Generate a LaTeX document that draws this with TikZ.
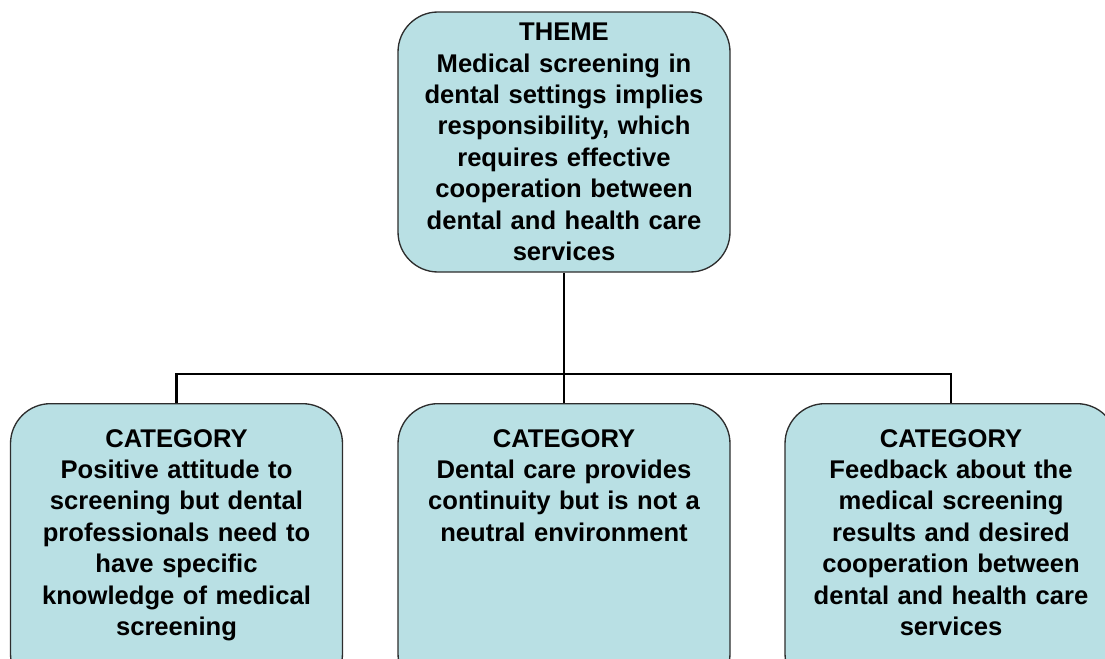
\documentclass[tikz,border=0pt]{standalone}
\usepackage{fontspec}
\setmainfont{Liberation Sans}
\usepackage{xcolor}
\definecolor{boxfill}{RGB}{185,224,228}
\definecolor{boxline}{RGB}{45,45,45}
\usepackage{tikz}
\usetikzlibrary{positioning}

\begin{document}
\begin{tikzpicture}[x=0.75pt,y=-0.75pt,
  block/.style={draw=boxline,line width=1pt,fill=boxfill,rounded corners=30pt,inner sep=0pt,
    minimum width=249pt,text width=240pt,align=center,
    font=\fontsize{19.2}{23.6}\selectfont\bfseries},
  catblock/.style={block,anchor=north,text height=32.5pt,text depth=185pt},
  link/.style={line width=2.2pt}]
\useasboundingbox (0,0) rectangle (1105,659);
\clip (0,0) rectangle (1105,659);

%theme block
\node (theme) at (564,142) [block,minimum height=195pt] {THEME\\Medical screening in\\dental settings implies\\responsibility, which\\requires effective\\cooperation between\\dental and health care\\services};

%category blocks
\node (cat1) at (176.5,403) [catblock] {CATEGORY\\Positive attitude to\\screening but dental\\professionals need to\\have specific\\knowledge of medical\\screening};
\node (cat2) at (564,403) [catblock] {CATEGORY\\Dental care provides\\continuity but is not a\\neutral environment};
\node (cat3) at (951,403) [catblock] {CATEGORY\\Feedback about the\\medical screening\\results and desired\\cooperation between\\dental and health care\\services};

%tree lines
\coordinate (bus) at (564,374);
\draw [link] (theme.south) -- (bus);
\draw [link] (cat1.north) |- (bus) -| (cat3.north);
\draw [link] (bus) -- (cat2.north);

\end{tikzpicture}
\end{document}
